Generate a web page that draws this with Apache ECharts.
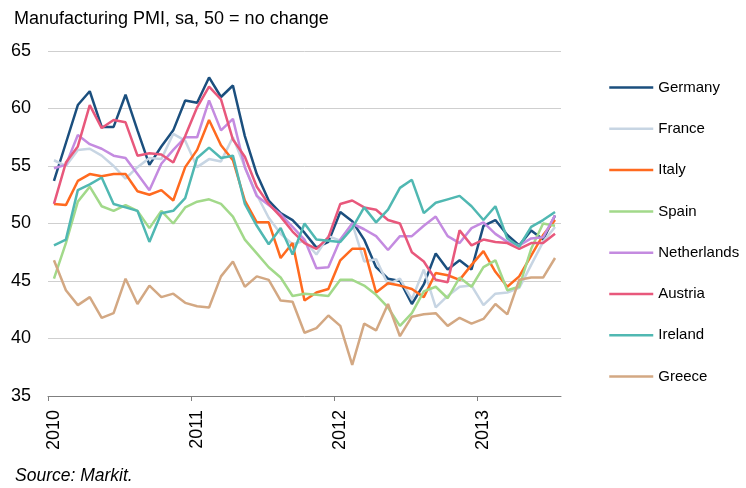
<!DOCTYPE html>
<html>
<head>
<meta charset="utf-8">
<script src="https://cdn.jsdelivr.net/npm/echarts@6/dist/echarts.min.js"></script>
<style>
html,body{margin:0;padding:0;background:#fff;}
#chart{width:746px;height:488px;}
</style>
</head>
<body>
<div id="chart"></div>
<script>
// Monthly manufacturing PMI, Jan 2010 - Jul 2013
var years = ['2010', '2011', '2012', '2013'];
var countries = ['Germany', 'France', 'Italy', 'Spain', 'Netherlands', 'Austria', 'Ireland', 'Greece'];

var germany = [53.7, 57.0, 60.3, 61.5, 58.4, 58.4, 61.2, 58.1, 55.1, 56.7, 58.1, 60.7,
               60.5, 62.7, 61.0, 62.0, 57.6, 54.3, 52.0, 50.9, 50.3, 49.2, 47.9, 48.4,
               51.0, 50.2, 48.6, 46.2, 45.2, 45.0, 43.0, 44.7, 47.4, 46.0, 46.8, 46.0,
               49.8, 50.3, 49.0, 48.1, 49.4, 48.6, 50.7];
var france = [55.5, 55.0, 56.4, 56.5, 55.9, 55.0, 53.9, 54.9, 55.7, 55.6, 57.8, 57.2,
              54.9, 55.6, 55.4, 57.5, 54.9, 52.5, 50.5, 49.1, 48.2, 48.5, 47.3, 48.9,
              48.5, 50.0, 46.7, 46.9, 44.7, 45.2, 43.4, 46.0, 42.7, 43.7, 44.5, 44.6,
              42.9, 43.9, 44.0, 44.4, 46.4, 48.4, 49.7];
var italy = [51.7, 51.6, 53.7, 54.3, 54.1, 54.3, 54.3, 52.8, 52.5, 52.9, 52.0, 54.9,
             56.4, 59.0, 56.8, 55.5, 52.0, 50.1, 50.1, 47.0, 48.3, 43.3, 44.0, 44.3,
             46.8, 47.8, 47.8, 44.0, 44.8, 44.6, 44.3, 43.6, 45.7, 45.5, 45.1, 46.4,
             47.6, 45.8, 44.5, 45.4, 47.2, 49.0, 50.3];
var spain = [45.2, 48.3, 51.9, 53.2, 51.5, 51.1, 51.6, 51.1, 49.6, 51.1, 50.0, 51.4,
             51.9, 52.1, 51.7, 50.6, 48.6, 47.4, 46.2, 45.3, 43.7, 43.9, 43.8, 43.7,
             45.1, 45.1, 44.6, 43.8, 42.7, 41.1, 42.2, 44.1, 44.5, 43.5, 45.3, 44.5,
             46.2, 46.8, 44.2, 44.5, 47.8, 50.0, 49.8];
var netherlands = [54.8, 55.1, 57.7, 56.9, 56.5, 55.9, 55.7, 54.3, 52.9, 55.2, 56.4, 57.5,
                   57.5, 60.7, 58.1, 59.1, 54.9, 52.4, 51.6, 50.8, 49.7, 48.6, 46.1, 46.2,
                   48.6, 50.0, 49.5, 48.9, 47.7, 48.9, 48.9, 49.8, 50.6, 48.9, 48.3, 49.6,
                   50.1, 49.1, 48.4, 48.1, 48.7, 48.8, 50.7];
var austria = [51.7, 55.3, 56.7, 60.3, 58.3, 59.0, 58.8, 55.9, 56.1, 56.0, 55.3, 57.6,
               60.1, 61.9, 60.8, 57.3, 55.8, 53.2, 51.7, 50.6, 49.3, 48.3, 47.8, 48.8,
               51.7, 52.0, 51.4, 51.2, 50.3, 50.0, 47.5, 46.7, 45.1, 44.9, 49.4, 48.1,
               48.6, 48.4, 48.3, 47.8, 48.3, 48.3, 49.1];
var ireland = [48.1, 48.6, 52.9, 53.4, 54.0, 51.7, 51.4, 51.1, 48.4, 50.9, 51.1, 52.2,
               55.7, 56.6, 55.7, 55.9, 51.7, 49.8, 48.2, 49.6, 47.3, 50.0, 48.6, 48.5,
               48.4, 49.6, 51.4, 50.1, 51.2, 53.1, 53.8, 50.9, 51.8, 52.1, 52.4, 51.5,
               50.3, 51.5, 48.7, 48.0, 49.7, 50.3, 51.0];
var greece = [46.8, 44.2, 42.9, 43.6, 41.8, 42.2, 45.2, 43.0, 44.6, 43.6, 43.9, 43.1,
              42.8, 42.7, 45.4, 46.7, 44.5, 45.4, 45.1, 43.3, 43.2, 40.5, 40.9, 42.0,
              41.1, 37.7, 41.3, 40.7, 43.0, 40.2, 41.9, 42.1, 42.2, 41.1, 41.8, 41.3,
              41.7, 43.0, 42.1, 45.1, 45.3, 45.3, 47.0];

var seriesValues = [germany, france, italy, spain, netherlands, austria, ireland, greece];
var colors = ['#1b4f7e', '#c7d5e3', '#ff6a1f', '#a2d98a', '#c48be0', '#e8587c', '#50b8b2', '#d3a883'];

// month index i is placed at the middle of its month (i + 0.5) on a month-count axis
function toPoints(arr) {
  return arr.map(function (v, i) { return [i + 0.5, v]; });
}

var chart = echarts.init(document.getElementById('chart'), null, {renderer: 'canvas'});
var fontFam = '"Liberation Sans", Arial, Helvetica, sans-serif';

chart.setOption({
  animation: false,
  backgroundColor: '#ffffff',
  title: {
    text: 'Manufacturing PMI, sa, 50 = no change',
    left: 14, top: 10, padding: 0,
    textStyle: {fontFamily: fontFam, fontSize: 18, fontWeight: 'normal', color: '#000'}
  },
  graphic: [{
    type: 'text', left: 15, top: 467,
    style: {text: 'Source: Markit.', font: 'italic 17.5px "Liberation Sans", Arial, sans-serif', fill: '#000'}
  }],
  legend: {
    orient: 'vertical', left: 608, top: 80,
    itemWidth: 44, itemHeight: 14, itemGap: 26.3,
    padding: 0,
    data: countries,
    itemStyle: {opacity: 0},
    lineStyle: {width: 2.5},
    textStyle: {fontFamily: fontFam, fontSize: 15, color: '#000'}
  },
  grid: {left: 48, right: 185, top: 51, bottom: 92, containLabel: false},
  xAxis: {
    type: 'value', min: 0, max: 43,
    axisLine: {show: true, lineStyle: {color: '#7f7f7f', width: 1}},
    axisTick: {show: true, length: 5, lineStyle: {color: '#7f7f7f'}, customValues: [0, 12, 24, 36]},
    splitLine: {show: false},
    axisLabel: {
      customValues: [0.5, 12.5, 24.5, 36.5],
      rotate: 90, margin: 14,
      fontFamily: fontFam, fontSize: 18, color: '#000',
      formatter: function (v) { return years[Math.floor(v / 12)]; }
    }
  },
  yAxis: {
    type: 'value', min: 35, max: 65, interval: 5,
    axisLine: {show: false}, axisTick: {show: false},
    splitLine: {show: true, lineStyle: {color: '#cfcfcf', width: 1}},
    axisLabel: {margin: 17, fontFamily: fontFam, fontSize: 18, color: '#000'}
  },
  series: countries.map(function (name, k) {
    return {
      name: name, type: 'line', data: toPoints(seriesValues[k]),
      symbol: 'none', smooth: false,
      lineStyle: {width: 2.5, color: colors[k]},
      itemStyle: {color: colors[k]}
    };
  })
});
</script>
</body>
</html>
